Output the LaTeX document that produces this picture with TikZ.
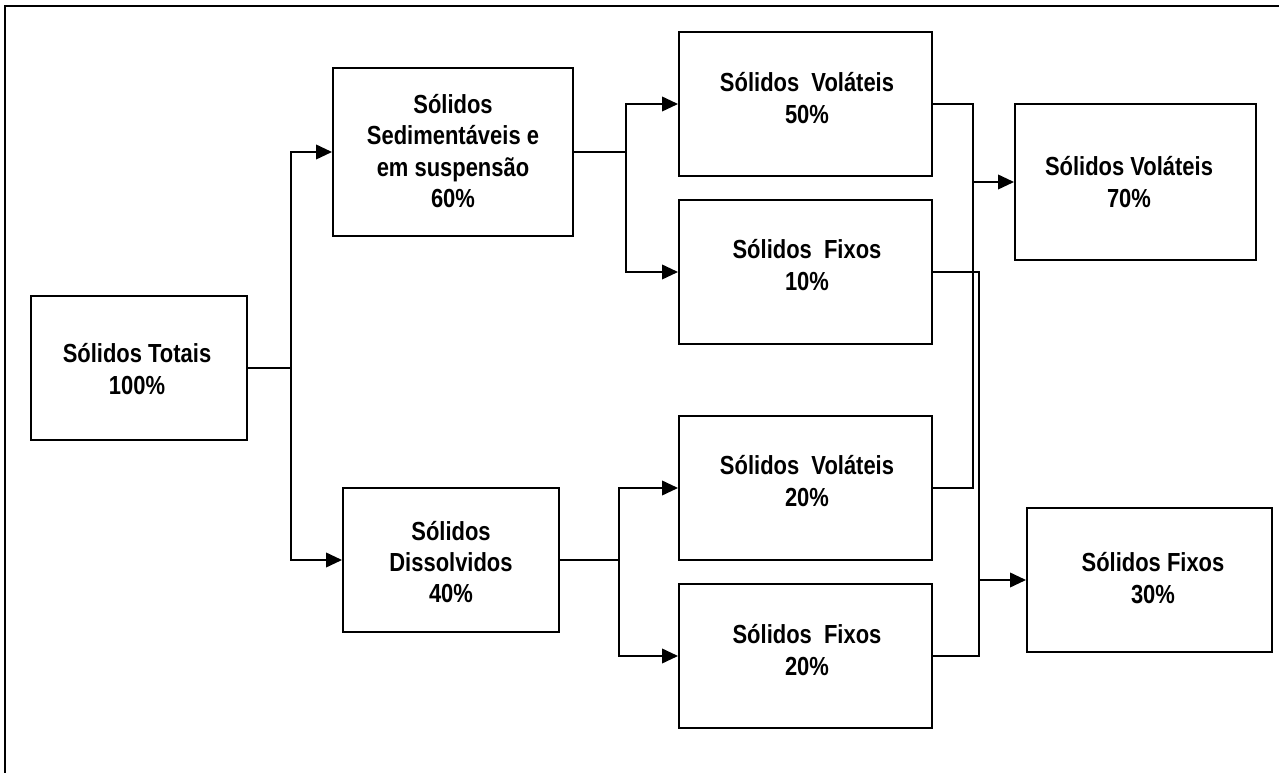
\documentclass[tikz,border=0pt]{standalone}
\usepackage{fontspec}
\setmainfont{Liberation Sans}[FakeStretch=0.84]
\usetikzlibrary{arrows.meta}
\tikzset{
  box/.style={draw=black, line width=1.5pt, rectangle, inner sep=0pt},
  txt/.style={align=center, inner sep=0pt, font=\fontsize{19.6pt}{23.5pt}\selectfont\bfseries},
  conn/.style={draw=black, line width=1.3pt},
  arr/.style={conn, -{Triangle[length=12pt,width=11pt]}}
}
\begin{document}
\begin{tikzpicture}[x=0.75pt,y=-0.75pt]
\useasboundingbox (0,0) rectangle (1279,773);
\clip (0,0) rectangle (1279,773);
\fill[white] (0,0) rectangle (1279,773);
% outer frame (right and bottom edges run off the picture)
\draw[line width=1.5pt] (5,790) -- (5,6) -- (1295,6);

% boxes
\node[box, minimum width=216*0.75pt, minimum height=144*0.75pt] (tot) at (139,368) {};
\node[box, minimum width=240*0.75pt, minimum height=168*0.75pt] (sed) at (453,152) {};
\node[box, minimum width=216*0.75pt, minimum height=144*0.75pt] (diss) at (451,560) {};
\node[box, minimum width=253*0.75pt, minimum height=144*0.75pt] (sv50) at (805.5,104) {};
\node[box, minimum width=253*0.75pt, minimum height=144*0.75pt] (sf10) at (805.5,272) {};
\node[box, minimum width=253*0.75pt, minimum height=144*0.75pt] (sv20) at (805.5,488) {};
\node[box, minimum width=253*0.75pt, minimum height=144*0.75pt] (sf20) at (805.5,656) {};
\node[box, minimum width=241*0.75pt, minimum height=156*0.75pt] (sv70) at (1135.5,182) {};
\node[box, minimum width=245*0.75pt, minimum height=144*0.75pt] (sf30) at (1149.5,580) {};

% texts
\node[txt] (totT) at (137,369) {Sólidos Totais\\100\%};
\node[txt] (sedT) at (453,151) {Sólidos\\Sedimentáveis e\\em suspensão\\60\%};
\node[txt] (dissT) at (451,562) {Sólidos\\Dissolvidos\\40\%};
\node[txt] (sv50T) at (807,98) {Sólidos~~Voláteis\\50\%};
\node[txt] (sf10T) at (807,265) {Sólidos~~Fixos\\10\%};
\node[txt] (sv20T) at (807,481) {Sólidos~~Voláteis\\20\%};
\node[txt] (sf20T) at (807,650) {Sólidos~~Fixos\\20\%};
\node[txt] (sv70T) at (1129,182) {Sólidos Voláteis\\70\%};
\node[txt] (sf30T) at (1153,578) {Sólidos Fixos\\30\%};

% junctions
\coordinate (j1) at (291,368);
\coordinate (j2) at (626,152);
\coordinate (j3) at (619,560);
\coordinate (v1) at (973,182);
\coordinate (v2) at (979,580);

% connectors
\draw[conn] (tot.east) -- (j1);
\draw[arr] (j1) |- (sed.west);
\draw[arr] (j1) |- (diss.west);

\draw[conn] (sed.east) -- (j2);
\draw[arr] (j2) |- (sv50.west);
\draw[arr] (j2) |- (sf10.west);

\draw[conn] (diss.east) -- (j3);
\draw[arr] (j3) |- (sv20.west);
\draw[arr] (j3) |- (sf20.west);

\draw[conn] (sv50.east) -| (v1) |- (sv20.east);
\draw[arr] (v1) -- (sv70.west);

\draw[conn] (sf10.east) -| (v2) |- (sf20.east);
\draw[arr] (v2) -- (sf30.west);
\end{tikzpicture}
\end{document}
